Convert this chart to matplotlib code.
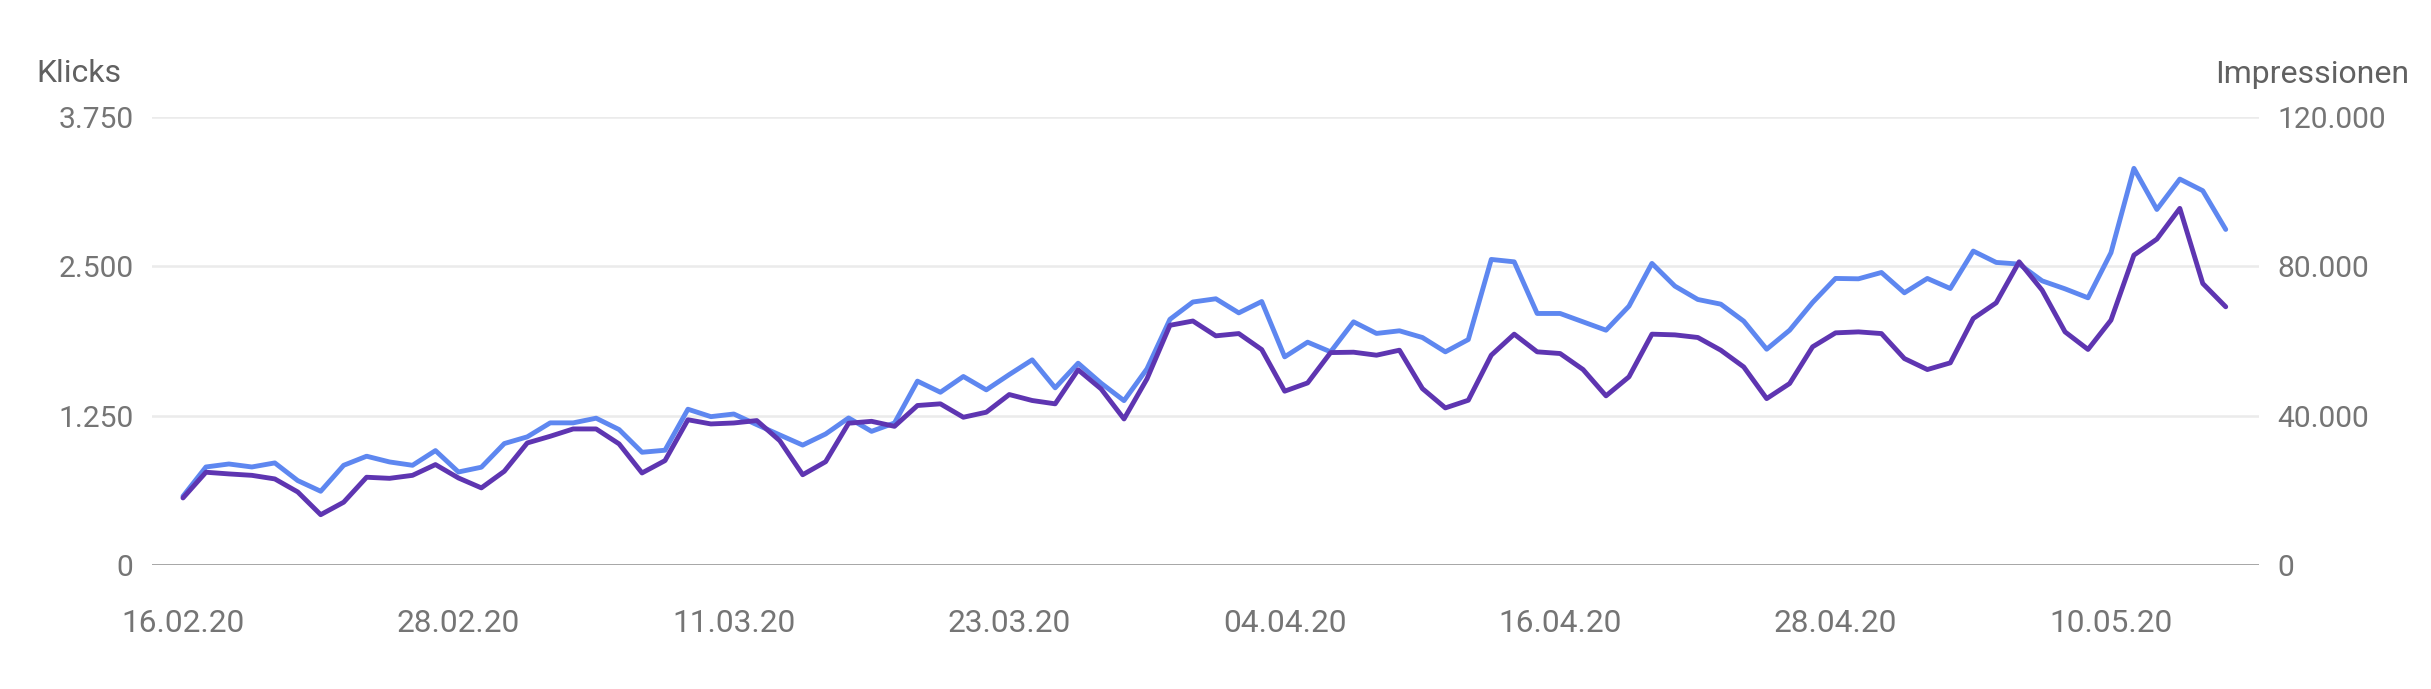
import datetime as dt
import matplotlib
matplotlib.use('Agg')
import matplotlib.pyplot as plt
from matplotlib.ticker import FuncFormatter

# Daten, 16.02.20 bis 15.05.20
start = dt.date(2020, 2, 16)
tage = [start + dt.timedelta(days=i) for i in range(90)]

klicks = [575, 820, 845, 820, 854, 706, 617, 834, 910, 862,
          834, 957, 778, 818, 1016, 1072, 1189, 1189, 1228, 1133,
          943, 960, 1303, 1241, 1263, 1174, 1088, 1003, 1096, 1230,
          1118, 1188, 1538, 1445, 1577, 1465, 1593, 1716, 1482, 1688,
          1521, 1375, 1641, 2055, 2200, 2227, 2109, 2204, 1741, 1864,
          1783, 2034, 1937, 1959, 1903, 1783, 1886, 2556, 2536, 2104,
          2104, 2034, 1964, 2165, 2523, 2333, 2221, 2182, 2040, 1805,
          1964, 2196, 2397, 2394, 2447, 2277, 2397, 2313, 2626, 2531,
          2517, 2377, 2310, 2235, 2612, 3318, 2974, 3228, 3131, 2807]

impressionen = [17950, 24830, 24380, 24000, 23040, 19550, 13470, 16800, 23490, 23200,
                24000, 26880, 23300, 20640, 25090, 32670, 34460, 36420, 36420, 32420,
                24640, 27940, 38880, 37760, 38020, 38660, 33280, 24160, 27650, 37950,
                38460, 37120, 42690, 43140, 39550, 40900, 45630, 44030, 43140, 52260,
                47140, 39100, 49820, 64160, 65310, 61340, 61950, 57660, 46530, 48740,
                56860, 56960, 56160, 57500, 47230, 42050, 44100, 56160, 61790, 57060,
                56610, 52320, 45280, 50370, 61790, 61600, 60900, 57500, 53020, 44540,
                48580, 58400, 62140, 62400, 61950, 55260, 52320, 54110, 65980, 70180,
                81150, 73570, 62400, 57700, 65540, 82940, 87230, 95460, 75360, 69120]

klicks_ticks = [0, 1250, 2500, 3750]
impr_ticks = [0, 40000, 80000, 120000]
datum_ticks = [0, 12, 24, 36, 48, 60, 72, 84]

plt.rcParams['font.family'] = ['Roboto', 'DejaVu Sans']
plt.rcParams['font.size'] = 21.6

def punkt(v, pos=None):
    return f'{int(v):,}'.replace(',', '.')

fig = plt.figure(figsize=(24.31, 6.89), dpi=100)
ax = fig.add_axes([152 / 2431, 124 / 689, 2107 / 2431, 448.3 / 689])
ax2 = ax.twinx()

x = list(range(len(tage)))
ax.plot(x, klicks, color='#5e87f0', linewidth=3.5, solid_joinstyle='round',
        solid_capstyle='round', zorder=3)
ax2.plot(x, impressionen, color='#5e35b1', linewidth=3.5, solid_joinstyle='round',
         solid_capstyle='round', zorder=4)

ax.set_xlim(-1.35, 90.45)
ax.set_ylim(0, 3750)
ax2.set_ylim(0, 120000)

for y in klicks_ticks[1:]:
    ax.axhline(y, color='#ebebeb', linewidth=1.8, zorder=1)
ax.axhline(0, color='#9e9e9e', linewidth=2.0, zorder=2)

ax.set_yticks(klicks_ticks)
ax.yaxis.set_major_formatter(FuncFormatter(punkt))
ax2.set_yticks(impr_ticks)
ax2.yaxis.set_major_formatter(FuncFormatter(punkt))
ax.set_xticks(datum_ticks)
ax.set_xticklabels([tage[i].strftime('%d.%m.%y') for i in datum_ticks], fontsize=22.8)

ax.tick_params(axis='y', length=0, pad=13.5, colors='#757575')
ax2.tick_params(axis='y', length=0, pad=13, colors='#757575')
ax.tick_params(axis='x', length=0, pad=32, colors='#757575')

for a in (ax, ax2):
    for s in a.spines.values():
        s.set_visible(False)
    a.patch.set_visible(False)

fig.text(36 / 2431, 1 - 82 / 689, 'Klicks', ha='left', va='baseline',
         color='#616161', fontsize=23)
fig.text(2409 / 2431, 1 - 83 / 689, 'Impressionen', ha='right', va='baseline',
         color='#616161', fontsize=23)

plt.savefig('out.png', dpi=100)
